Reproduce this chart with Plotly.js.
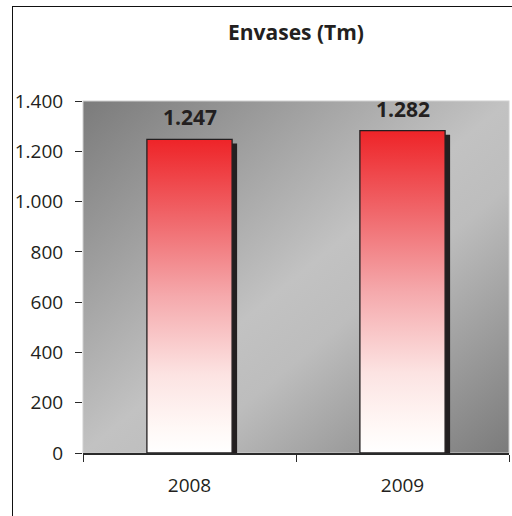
<!DOCTYPE html>
<html><head><meta charset="utf-8">
<script src="https://cdn.plot.ly/plotly-3.0.1.min.js"></script>
<style>
html,body{margin:0;padding:0;overflow:hidden;background:#fff;width:512px;height:516px}
#chart{position:absolute;left:0;top:0;width:512px;height:516px}
#frame{position:absolute;left:12px;top:6px;width:700px;height:700px;border:1px solid #111;pointer-events:none}
</style>
</head><body>
<div id="chart"></div><div id="frame"></div>
<script>
const categories = ['2008', '2009'];
const values = [1247, 1282];
const yTickVals = [0, 200, 400, 600, 800, 1000, 1200, 1400];
const yTickText = ['0', '200', '400', '600', '800', '1.000', '1.200', '1.400'];
const chartTitle = 'Envases (Tm)';

function fmt(v) { return String(v).replace(/\B(?=(\d{3})+(?!\d))/g, '.'); }

const FONT = 'Open Sans, Noto Sans, DejaVu Sans, sans-serif';

const shadowTrace = {
  type: 'bar', x: categories, y: values, width: 0.4,
  marker: {color: '#231f20', line: {width: 0}},
  hoverinfo: 'skip', showlegend: false
};
const mainTrace = {
  type: 'bar', x: categories, y: values, width: 0.4,
  marker: {color: '#f08080', line: {color: '#231f20', width: 1.3}},
  hoverinfo: 'skip', showlegend: false
};

const annotations = categories.map((c, i) => ({
  x: i, y: values[i], xref: 'x', yref: 'y',
  text: '<b>' + fmt(values[i]) + '</b>',
  showarrow: false, yanchor: 'bottom', yshift: 6,
  font: {family: FONT, size: 21, color: '#231f20'}
}));

const layout = {
  width: 512, height: 516,
  margin: {l: 83, r: 3, t: 101, b: 63, pad: 0},
  paper_bgcolor: 'rgba(0,0,0,0)',
  plot_bgcolor: '#b0b0b0',
  barmode: 'overlay',
  separators: ',.',
  showlegend: false,
  title: {
    text: '<b>' + chartTitle + '</b>',
    font: {family: FONT, size: 21, color: '#231f20'},
    xref: 'paper', x: 0.5, xanchor: 'center',
    yref: 'container', y: 1 - 33 / 516, yanchor: 'middle'
  },
  xaxis: {
    type: 'category', range: [-0.5, categories.length - 0.5], tickson: 'boundaries',
    showline: true, linecolor: '#2a2a2a', linewidth: 1.5,
    ticks: 'outside', ticklen: 7, tickcolor: '#2a2a2a', tickwidth: 1,
    showgrid: false, zeroline: false, tickangle: 0,
    tickfont: {family: FONT, size: 19, color: '#231f20'},
    ticklabelstandoff: 15
  },
  yaxis: {
    range: [0, 1400], tickvals: yTickVals, ticktext: yTickText,
    showline: false, showgrid: false, zeroline: false,
    ticks: 'outside', ticklen: 7, tickcolor: '#2a2a2a', tickwidth: 1,
    tickfont: {family: FONT, size: 19, color: '#231f20'},
    ticklabelstandoff: 8
  },
  annotations: annotations
};

Plotly.newPlot('chart', [shadowTrace, mainTrace], layout, {staticPlot: true, displayModeBar: false}).then(gd => {
  const ns = 'http://www.w3.org/2000/svg';
  const svg = gd.querySelector('.main-svg');
  let defs = svg.querySelector('defs');
  if (!defs) { defs = document.createElementNS(ns, 'defs'); svg.insertBefore(defs, svg.firstChild); }
  function grad(id, x2, y2, stops) {
    const g = document.createElementNS(ns, 'linearGradient');
    g.setAttribute('id', id);
    g.setAttribute('x1', '0'); g.setAttribute('y1', '0');
    g.setAttribute('x2', String(x2)); g.setAttribute('y2', String(y2));
    stops.forEach(s => {
      const st = document.createElementNS(ns, 'stop');
      st.setAttribute('offset', String(s[0]));
      st.setAttribute('stop-color', s[1]);
      g.appendChild(st);
    });
    defs.appendChild(g);
  }
  grad('barGrad', 0, 1, [[0, '#ee2428'], [0.25, '#f0666a'], [0.5, '#f5a9ac'], [0.75, '#fce3e2'], [0.92, '#fff8f6'], [1, '#ffffff']]);
  grad('bgGrad', 1, 1, [[0, '#7b7b7b'], [0.5, '#c2c2c2'], [0.62, '#bdbdbd'], [1, '#7b7b7b']]);
  const traces = gd.querySelectorAll('.barlayer .trace');
  if (traces[0]) traces[0].querySelectorAll('.point path').forEach(p => p.setAttribute('transform', 'translate(5,4)'));
  if (traces[1]) traces[1].querySelectorAll('.point path').forEach(p => { p.style.fill = 'url(#barGrad)'; });
  const bg = gd.querySelector('rect.bg');
  if (bg) { bg.style.fill = 'url(#bgGrad)'; bg.style.stroke = '#cfcfcf'; bg.style.strokeWidth = '1px'; }
});
</script>
</body></html>
